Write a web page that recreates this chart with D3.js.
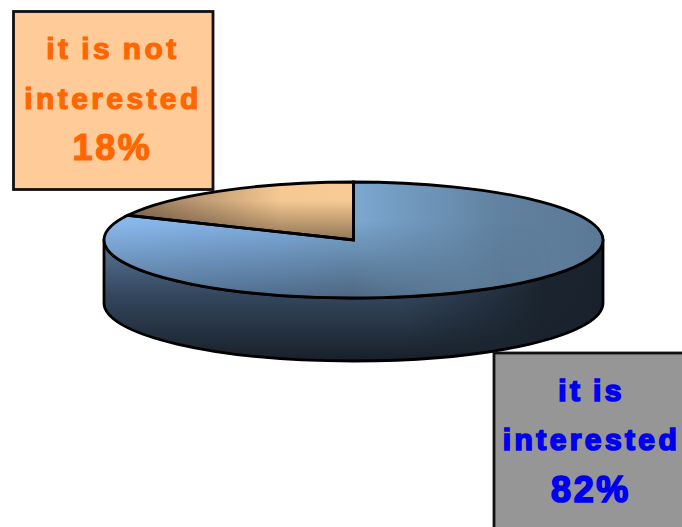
<!DOCTYPE html>
<html><head><meta charset="utf-8">
<script src="https://cdnjs.cloudflare.com/ajax/libs/d3/7.8.5/d3.min.js"></script>
<style>html,body{margin:0;padding:0;background:#fff;overflow:hidden}svg{display:block}</style>
</head><body><svg id="c" width="682" height="527"></svg>
<script>
const categories = ["it is interested", "it is not interested"];
const values = [82, 18];
const labelLines = [["it is", "interested", "82%"], ["it is not", "interested", "18%"]];
const labelFills = ["#969696", "#ffcc99"];
const labelColors = ["#0000ee", "#ff6600"];

const svg = d3.select("#c");
const cx = 353.5, cy = 240, rx = 249.5, ry = 58, depth = 63;
const defs = svg.append("defs");
function grad(id, x1, y1, x2, y2, stops) {
  const g = defs.append("linearGradient").attr("id", id).attr("gradientUnits", "userSpaceOnUse")
    .attr("x1", x1).attr("y1", y1).attr("x2", x2).attr("y2", y2);
  stops.forEach(s => g.append("stop").attr("offset", s[0]).attr("stop-color", s[1]).attr("stop-opacity", s[2] === undefined ? 1 : s[2]));
}
grad("blueH", 103, 0, 603, 0, [[0, "#8abaee"], [0.35, "#7fadde"], [0.52, "#7aa5cd"], [0.8, "#60819f"], [1, "#5a7996"]]);
grad("blueV", 0, 222, 0, 298, [[0, "#000", 0], [1, "#000", 0.38]]);
grad("maskH", 103, 0, 603, 0, [[0, "#fff"], [0.5, "#fff"], [0.72, "#555"], [0.9, "#000"]]);
grad("tanH", 128, 0, 353, 0, [[0, "#937659"], [0.35, "#c39e76"], [0.68, "#f6c992"], [1, "#f8cb94"]]);
grad("tanV", 0, 200, 0, 240, [[0, "#000", 0], [1, "#000", 0.42]]);
grad("sideV", 0, 240, 0, 361, [[0, "#5a7897"], [0.45, "#34475e"], [1, "#182029"]]);
grad("sideH", 103, 0, 603, 0, [[0, "#19222c", 0], [0.6, "#19222c", 0], [0.88, "#19222c", 0.95], [1, "#19222c", 1]]);
defs.append("mask").attr("id", "fadeRight").attr("maskUnits", "userSpaceOnUse")
  .attr("x", 0).attr("y", 0).attr("width", 682).attr("height", 527)
  .append("rect").attr("width", 682).attr("height", 527).attr("fill", "url(#maskH)");

const pie = d3.pie().sort(null).value(d => d);
const arcs = pie(values);
const px = a => cx + rx * Math.sin(a);
const py = a => cy - ry * Math.cos(a);
function wedge(d) {
  const large = d.endAngle - d.startAngle > Math.PI ? 1 : 0;
  return `M${cx},${cy}L${px(d.startAngle)},${py(d.startAngle)}A${rx},${ry} 0 ${large} 1 ${px(d.endAngle)},${py(d.endAngle)}Z`;
}
const sidePath = `M${cx - rx},${cy}A${rx},${ry} 0 0 0 ${cx + rx},${cy}L${cx + rx},${cy + depth}A${rx},${ry} 0 0 1 ${cx - rx},${cy + depth}Z`;

svg.append("path").attr("d", sidePath).attr("fill", "url(#sideV)");
svg.append("path").attr("d", sidePath).attr("fill", "url(#sideH)");
svg.append("path").attr("d", sidePath).attr("fill", "none").attr("stroke", "#000").attr("stroke-width", 2.8).attr("stroke-linejoin", "round");

svg.append("path").attr("d", wedge(arcs[0])).attr("fill", "url(#blueH)");
svg.append("path").attr("d", wedge(arcs[0])).attr("fill", "url(#blueV)").attr("mask", "url(#fadeRight)");
svg.append("path").attr("d", wedge(arcs[1])).attr("fill", "url(#tanH)");
svg.append("path").attr("d", wedge(arcs[1])).attr("fill", "url(#tanV)");
svg.selectAll("path.o").data(arcs).enter().append("path").attr("class", "o").attr("d", wedge)
  .attr("fill", "none").attr("stroke", "#000").attr("stroke-width", 2.8).attr("stroke-linejoin", "miter");

const boxes = [{x: 494, y: 353, w: 200, h: 190, tx: 590.5, ty: [401, 450, 502]},
               {x: 13.5, y: 11.5, w: 199.5, h: 178, tx: 112, ty: [59, 109, 160]}];
boxes.forEach((b, i) => {
  svg.append("rect").attr("x", b.x).attr("y", b.y).attr("width", b.w).attr("height", b.h)
    .attr("fill", labelFills[i]).attr("stroke", "#111").attr("stroke-width", 2.8);
  labelLines[i].forEach((t, j) => {
    const big = j === 2;
    svg.append("text").attr("x", b.tx + (big ? 0.5 : 1)).attr("y", b.ty[j]).attr("text-anchor", "middle")
      .attr("font-family", "Liberation Sans, Arial, sans-serif").attr("font-weight", 700)
      .attr("font-size", big ? 36 : 30).attr("letter-spacing", big ? 2.6 : 3.4)
      .attr("word-spacing", -2)
      .attr("fill", labelColors[i]).attr("stroke", labelColors[i]).attr("stroke-width", i === 0 ? 1.7 : 1.2)
      .text(t);
  });
});
</script></body></html>
